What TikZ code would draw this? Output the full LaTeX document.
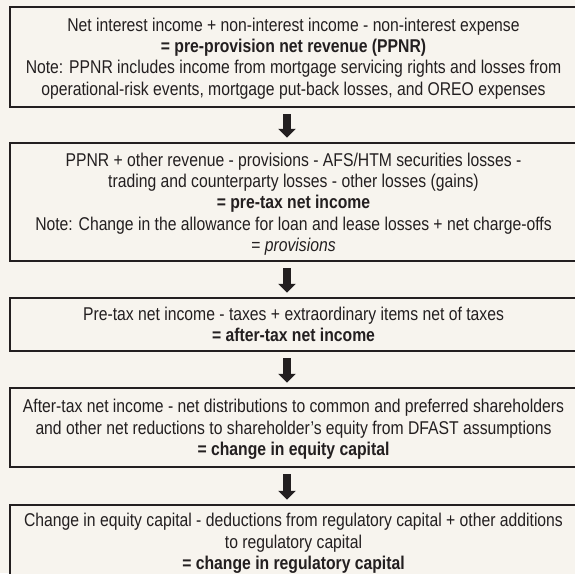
\documentclass[tikz,border=0pt]{standalone}
\usepackage{fontspec}
\setmainfont{Liberation Sans}[FakeStretch=0.85]
\usetikzlibrary{arrows.meta}
\definecolor{bg}{HTML}{F7F4EE}
\definecolor{ink}{HTML}{231F20}
\tikzset{
  box/.style={draw=ink, line width=2.5pt, fill=bg, minimum width=567pt, align=center,
    text=ink, inner sep=0pt, font=\fontsize{18.5}{21.3}\selectfont},
  arr/.style={draw=ink, line width=8pt, -{Triangle[width=17pt,length=9pt]}},
}
\begin{document}
\begin{tikzpicture}[x=1pt,y=1pt]
\useasboundingbox (0,0) rectangle (575,-573);
\clip (0,0) rectangle (575,-573);
\fill[bg] (0,0) rectangle (575,-573);
\node[box, minimum height=100pt, text depth=1pt] (b1) at (293.5,-57) {Net interest income + non-interest income - non-interest expense\\
\textbf{= pre-provision net revenue (PPNR)}\\
Note: PPNR includes income from mortgage servicing rights and losses from\\
operational-risk events, mortgage put-back losses, and OREO expenses};
\node[box, minimum height=118pt, text depth=0pt] (b2) at (293.5,-202) {PPNR + other revenue - provisions - AFS/HTM securities losses -\\
trading and counterparty losses - other losses (gains)\\
\textbf{= pre-tax net income}\\
Note: Change in the allowance for loan and lease losses + net charge-offs\\
= \textit{provisions}};
\node[box, minimum height=53pt, text depth=0pt] (b3) at (293.5,-324.5) {Pre-tax net income - taxes + extraordinary items net of taxes\\
\textbf{= after-tax net income}};
\node[box, minimum height=79pt, text depth=0pt] (b4) at (293.5,-427.5) {After-tax net income - net distributions to common and preferred shareholders\\
and other net reductions to shareholder’s equity from DFAST assumptions\\
\textbf{= change in equity capital}};
\node[box, minimum height=77pt] (b5) at (293.5,-543.5) {Change in equity capital - deductions from regulatory capital + other additions\\
to regulatory capital\\
\textbf{= change in regulatory capital}};
\draw[arr] ([xshift=-6.5pt,yshift=-6pt]b1.south) -- ([xshift=-6.5pt,yshift=4pt]b2.north);
\draw[arr] ([xshift=-6.5pt,yshift=-6pt]b2.south) -- ([xshift=-6.5pt,yshift=4pt]b3.north);
\draw[arr] ([xshift=-6.5pt,yshift=-6pt]b3.south) -- ([xshift=-6.5pt,yshift=4pt]b4.north);
\draw[arr] ([xshift=-6.5pt,yshift=-6pt]b4.south) -- ([xshift=-6.5pt,yshift=4pt]b5.north);
\end{tikzpicture}
\end{document}
